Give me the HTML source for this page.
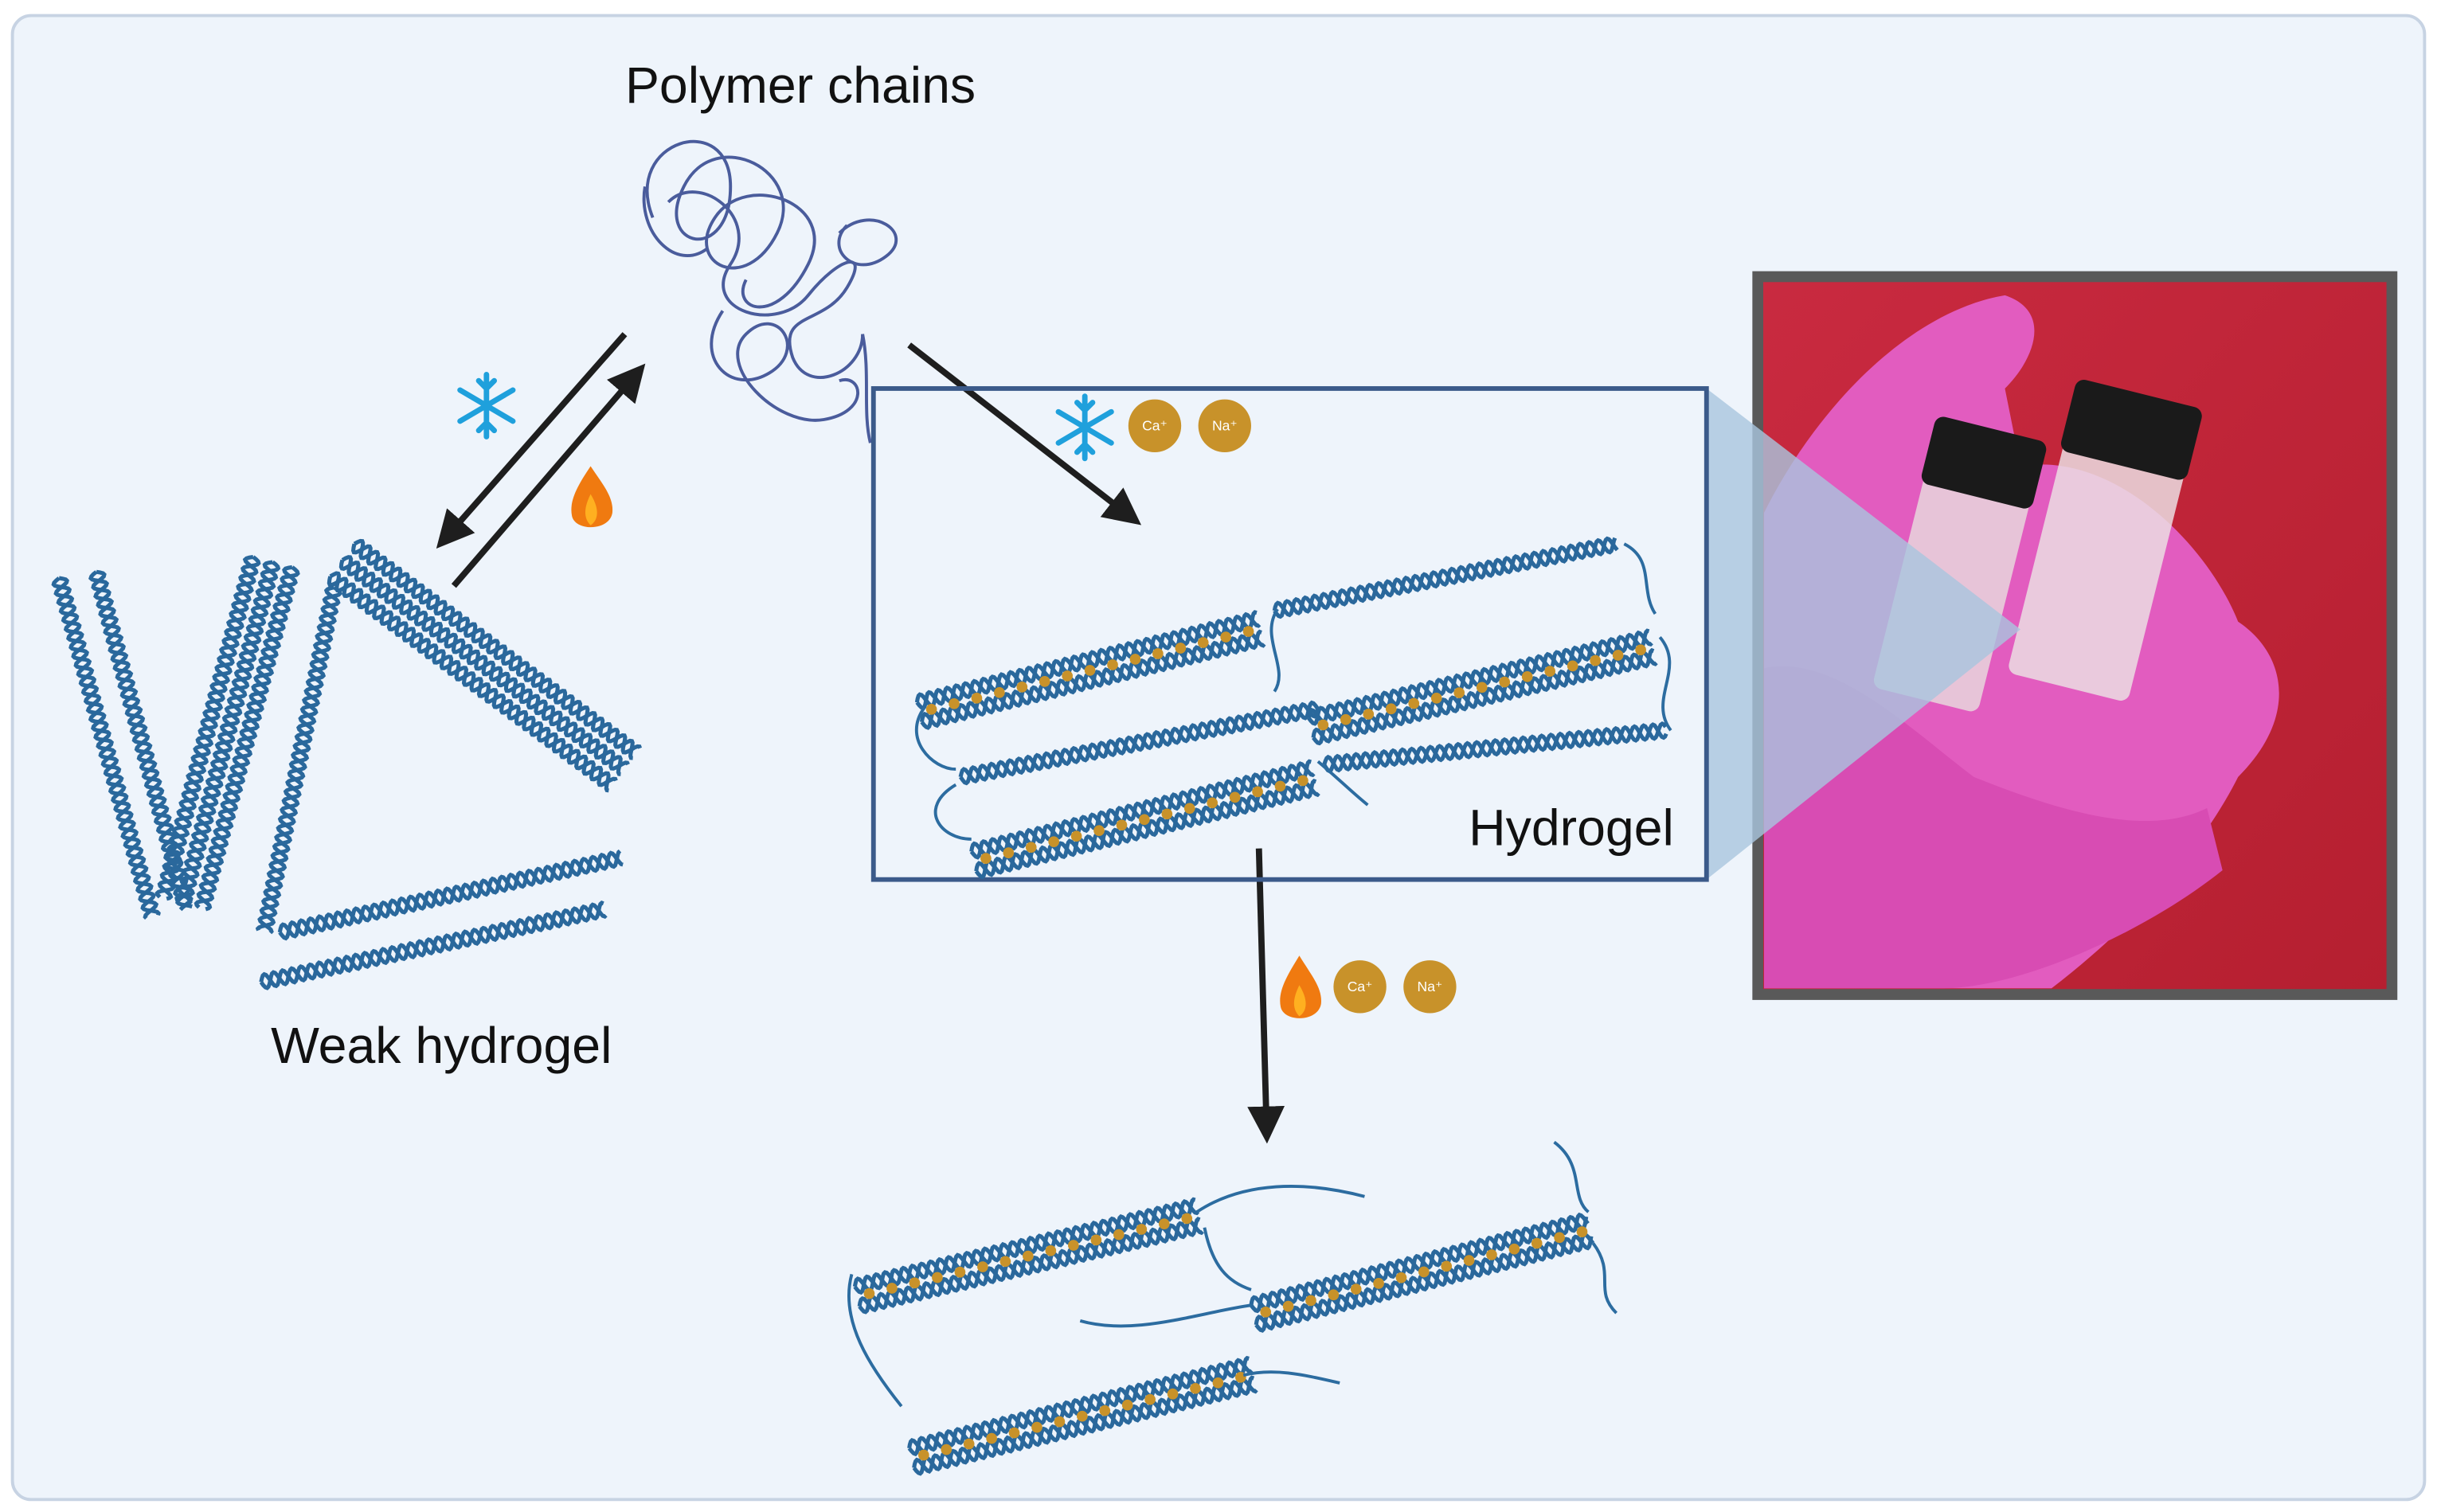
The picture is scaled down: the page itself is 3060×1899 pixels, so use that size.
<!DOCTYPE html>
<html><head><meta charset="utf-8"><style>
html,body{margin:0;padding:0;background:#fff;}
svg{display:block;}
text{font-family:"Liberation Sans",sans-serif;}
</style></head><body>
<svg id="s" width="3060" height="1899" viewBox="0 0 1568 973" xmlns="http://www.w3.org/2000/svg">
<defs>
<marker id="ah" markerWidth="6" markerHeight="6" refX="4" refY="3" orient="auto" markerUnits="strokeWidth">
<path d="M0,0 L6,3 L0,6 Z" fill="#1e1e1e"/></marker>
<linearGradient id="red" x1="0" y1="0" x2="1" y2="1"><stop offset="0" stop-color="#c92a40"/><stop offset="1" stop-color="#b51f30"/></linearGradient>
</defs>
<rect x="0" y="0" width="1568" height="973" fill="#fff"/>
<rect x="8" y="10" width="1552" height="955" rx="12" fill="#eef4fb" stroke="#c7d3e3" stroke-width="2"/>
<text x="515" y="66" font-size="33" text-anchor="middle" fill="#111">Polymer chains</text>
<text x="284" y="684" font-size="33" text-anchor="middle" fill="#111">Weak hydrogel</text>
<!-- coil -->
<g fill="none" stroke="#4a5c9c" stroke-width="2">
<path d="M420,140 C400,90 470,70 470,120 C470,170 420,160 440,120 C460,80 520,110 500,150 C480,190 440,170 460,140 C480,110 540,130 520,170 C500,210 470,200 480,180"/>
<path d="M430,130 C450,110 490,140 470,170 C450,200 500,215 520,190 C540,165 560,160 545,185 C530,210 500,200 510,230 C520,255 555,240 555,215"/>
<path d="M540,150 C560,130 590,150 570,165 C550,180 530,160 545,145"/>
<path d="M465,200 C445,230 470,255 495,240 C520,225 500,195 480,215 C460,235 500,275 530,270 C560,265 555,240 540,245"/>
<path d="M555,215 C560,240 555,265 560,285"/>
<path d="M415,120 C410,150 435,175 455,160"/>
</g>
<!-- arrows -->
<g stroke="#1e1e1e" stroke-width="4" fill="none">
<line x1="402" y1="215" x2="286" y2="347" marker-end="url(#ah)"/>
<line x1="292" y1="377" x2="410" y2="240" marker-end="url(#ah)"/>
<line x1="585" y1="222" x2="728" y2="333" marker-end="url(#ah)"/>
<line x1="810" y1="546" x2="815" y2="728" marker-end="url(#ah)"/>
</g>
<!-- icons -->
<g stroke="#1fa0dc" stroke-width="3.5" fill="none" stroke-linecap="round">
<g transform="translate(313,261)"><path d="M0,-20V20M-17,-10L17,10M-17,10L17,-10M-5,-16L0,-11L5,-16M-5,16L0,11L5,16"/></g>
<g transform="translate(698,275)"><path d="M0,-20V20M-17,-10L17,10M-17,10L17,-10M-5,-16L0,-11L5,-16M-5,16L0,11L5,16"/></g>
</g>
<g>
<path d="M380,300 C372,312 366,322 368,332 C370,342 392,342 394,330 C395,320 388,312 380,300Z" fill="#f07a10"/>
<path d="M380,318 C376,326 375,333 380,338 C386,334 385,326 380,318Z" fill="#ffb020"/>
<path d="M836,615 C828,628 822,638 824,648 C826,658 848,658 850,646 C851,636 844,628 836,615Z" fill="#f07a10"/>
<path d="M836,634 C832,642 831,649 836,654 C842,650 841,642 836,634Z" fill="#ffb020"/>
</g>
<g font-size="9" fill="#fff" text-anchor="middle">
<circle cx="743" cy="274" r="17" fill="#c8922a"/><text x="743" y="277">Ca⁺</text>
<circle cx="788" cy="274" r="17" fill="#c8922a"/><text x="788" y="277">Na⁺</text>
<circle cx="875" cy="635" r="17" fill="#c8922a"/><text x="875" y="638">Ca⁺</text>
<circle cx="920" cy="635" r="17" fill="#c8922a"/><text x="920" y="638">Na⁺</text>
</g>
<!-- photo -->
<rect x="1131" y="178" width="408" height="462" fill="url(#red)" stroke="#595959" stroke-width="7"/>
<path d="M1135,330 C1170,260 1230,200 1290,190 C1320,200 1310,230 1290,250 L1300,300 C1360,290 1420,350 1440,400 C1470,420 1480,460 1440,500 C1420,540 1380,590 1320,636 L1135,636 Z" fill="#e25cbf"/>
<path d="M1135,430 C1180,420 1230,470 1270,500 C1320,520 1380,540 1420,520 L1430,560 C1380,600 1300,636 1250,636 L1135,636Z" fill="#d84cb3"/>
<g transform="rotate(14 1330 360)">
<rect x="1228" y="320" width="70" height="150" rx="6" fill="#e8d6dc" opacity="0.85"/>
<rect x="1226" y="290" width="74" height="45" rx="6" fill="#1a1a1a"/>
<rect x="1310" y="280" width="80" height="160" rx="6" fill="#ebdde2" opacity="0.85"/>
<rect x="1308" y="245" width="84" height="48" rx="6" fill="#1a1a1a"/>
</g>
<polygon points="1098,250 1300,405 1098,566" fill="#a9c6df" opacity="0.8"/>
<!-- hydrogel box -->
<rect x="562" y="250" width="536" height="316" fill="none" stroke="#3b5a8a" stroke-width="3"/>
<text x="1011" y="544" font-size="33" text-anchor="middle" fill="#111">Hydrogel</text>
<g id="helices"></g>
<g fill="none" stroke="#2c6ca0" stroke-width="2">
<path d="M822,392 C810,410 830,430 820,445 M1045,350 C1065,360 1055,380 1065,395 M1068,410 C1085,430 1060,450 1075,470 M595,455 C580,475 600,495 615,495 M615,505 C590,520 605,540 625,540 M848,490 C860,500 870,510 880,518"/>
<path d="M770,780 C800,760 840,760 878,770 M1000,735 C1020,750 1010,770 1022,780 M1025,800 C1040,820 1025,830 1040,845 M548,820 C540,850 560,880 580,905 M695,850 C730,860 770,845 805,840 M800,885 C820,880 840,885 862,890 M775,790 C780,815 790,825 805,830"/>
</g>
</svg>
<script>
(function(){
var g=document.getElementById('helices'),ns='http://www.w3.org/2000/svg';
function strand(x1,y1,x2,y2,dots){
 var dx=x2-x1,dy=y2-y1,L=Math.hypot(dx,dy),ux=dx/L,uy=dy/L,nx=-uy,ny=ux;
 for(var ph=0;ph<2;ph++){
  var d='';
  for(var t=0;t<=L;t+=1){var a=Math.sin(t/12*2*Math.PI+ph*Math.PI)*4.5;
   d+=(t?'L':'M')+(x1+ux*t+nx*a).toFixed(1)+','+(y1+uy*t+ny*a).toFixed(1);}
  var p=document.createElementNS(ns,'path');p.setAttribute('d',d);p.setAttribute('fill','none');
  p.setAttribute('stroke','#2a689c');p.setAttribute('stroke-width','2.6');g.appendChild(p);
 }
}
function pair(x1,y1,x2,y2,dots,n){
 n=n||2;var dx=x2-x1,dy=y2-y1,L=Math.hypot(dx,dy),nx=-dy/L,ny=dx/L;
 for(var i=0;i<n;i++){var o=i*13;strand(x1+nx*o,y1+ny*o,x2+nx*o,y2+ny*o,false);}
 if(dots){var o=6.5;strand2dots(x1+nx*o,y1+ny*o,x2+nx*o,y2+ny*o);}
}
function strand2dots(x1,y1,x2,y2){var dx=x2-x1,dy=y2-y1,L=Math.hypot(dx,dy);
 for(var t=8;t<L;t+=15){var c=document.createElementNS(ns,'circle');
  c.setAttribute('cx',x1+dx/L*t);c.setAttribute('cy',y1+dy/L*t);c.setAttribute('r','3.5');c.setAttribute('fill','#c8922a');g.appendChild(c);}}
strand(38,372,98,590);strand(62,368,120,585);
pair(188,365,130,585,false,3);
strand(215,378,170,600);
pair(228,350,410,485,false,3);
strand(180,600,400,552);strand(168,632,390,585);
pair(590,452,810,398,true);
strand(820,393,1040,350);
pair(842,462,1062,410,true);
strand(618,500,848,456);strand(852,492,1072,470);
pair(625,548,845,494,true);
pair(550,828,770,776,true);
pair(805,840,1022,785,true);
pair(585,932,805,878,true);
})();
</script>
</body></html>
